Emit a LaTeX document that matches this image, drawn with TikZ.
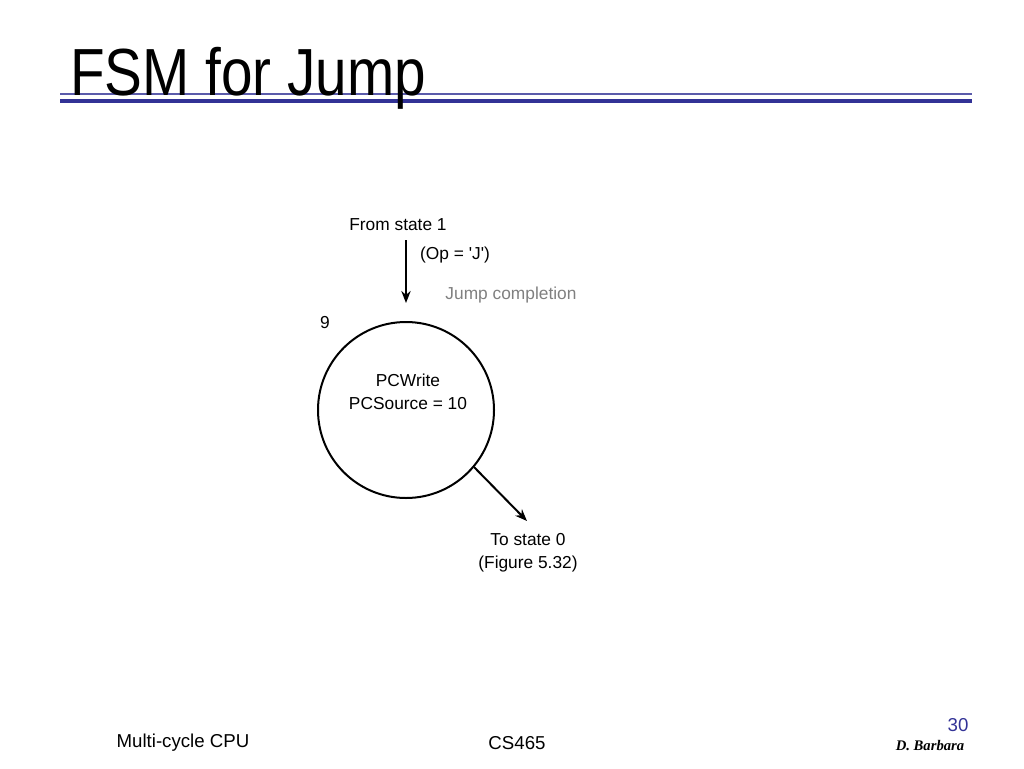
\documentclass[tikz,border=0pt]{standalone}
\usepackage{fontspec}
\setmainfont{Liberation Sans}
\newfontfamily\sigfont{Liberation Serif}
\usetikzlibrary{arrows.meta}
\definecolor{navy}{RGB}{50,50,150}
\begin{document}
\begin{tikzpicture}[x=0.75pt,y=-0.75pt,
  lbl/.style={font=\fontsize{13}{15}\selectfont,inner sep=0pt},
  ftr/.style={font=\fontsize{14}{16}\selectfont,inner sep=0pt},
  arr/.style={line width=1.5pt,-{Stealth[length=9pt,width=7pt]}}]
\useasboundingbox (0,0) rectangle (1024,768);
\draw[navy!80,line width=1pt] (60,94) -- (972,94);
\draw[navy,line width=3pt] (60,101) -- (972,101);
\node[anchor=base west,inner sep=0pt,font=\fontsize{50}{55}\selectfont,xscale=0.85] (title) at (70,95) {FSM for Jump};
\node[circle,draw,line width=1.5pt,minimum size=132pt,inner sep=0pt] (s9) at (406,410) {};
\node[lbl] (from) at (398,225) {From state 1};
\node[lbl] (op) at (455,255) {(Op = \textquotesingle J\textquotesingle)};
\node[lbl,text=gray] (jc) at (511,295) {Jump completion};
\node[lbl] (nine) at (325,323) {9};
\node[lbl,align=center] (act) at (408,392) {PCWrite\\[2pt]PCSource = 10};
\node[lbl,align=center] (to) at (528,553) {To state 0\\[2pt](Figure 5.32)};
\coordinate (inst) at (406,240);
\coordinate (ine) at (406,303);
\draw[arr] (inst) -- (ine);
\draw[arr] (s9.-40) -- (527,521);
\node[ftr] (f1) at (183,743) {Multi-cycle CPU};
\node[ftr] (f2) at (517,743) {CS465};
\node[ftr,text=navy] (pg) at (958,725) {30};
\node[inner sep=0pt,font=\sigfont\itshape\bfseries\fontsize{11}{13}\selectfont] (sig) at (930,746) {D. Barbara};
\end{tikzpicture}
\end{document}
